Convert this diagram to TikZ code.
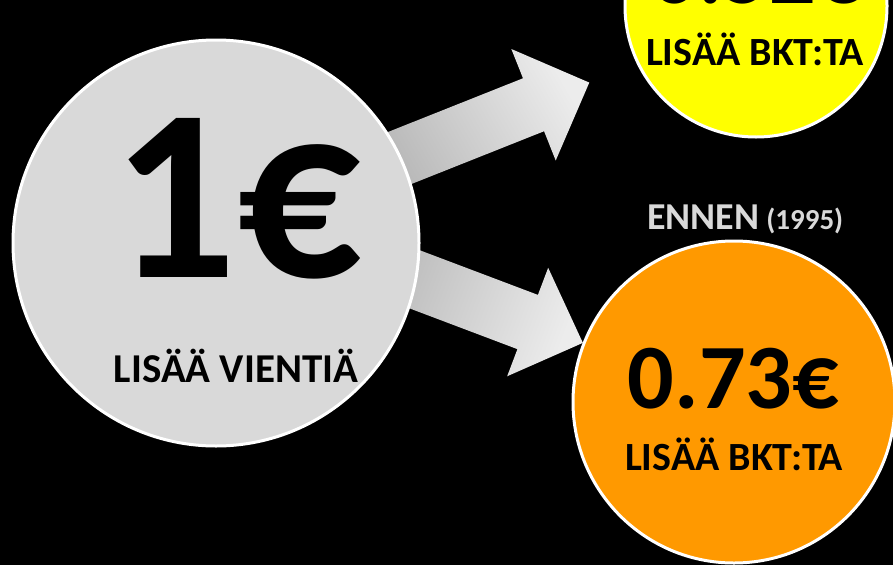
\documentclass[tikz,border=0pt]{standalone}
\usepackage{fontspec}
\setmainfont{Carlito}
\definecolor{greyfill}{HTML}{D9D9D9}
\definecolor{yellowfill}{HTML}{FFFF00}
\definecolor{orangefill}{HTML}{FF9900}
\definecolor{arrowdark}{HTML}{B2B2B2}
\definecolor{arrowlight}{HTML}{ECECEC}
\begin{document}
\begin{tikzpicture}[x=1pt,y=1pt,
  bubble/.style={circle, draw=white, line width=3pt, inner sep=0pt},
  bigtxt/.style={font=\bfseries\fontsize{#1}{#1}\selectfont, text=black, anchor=base, inner sep=0pt},
]
\fill[black] (0,0) rectangle (893,-565);
\useasboundingbox (0,0) rectangle (893,-565);

% arrows (behind circles)
\begin{scope}[shift={(357,-175)}, rotate=21.7]
  \shade[bottom color=arrowdark, top color=arrowlight, shading angle=-60]
    (0,28.5) -- (190,28.5) -- (190,60) -- (250,0) -- (190,-60) -- (190,-28.5) -- (0,-28.5) -- cycle;
\end{scope}
\begin{scope}[shift={(349,-254.5)}, rotate=-20.7]
  \shade[bottom color=arrowdark, top color=arrowlight, shading angle=-110.7]
    (0,29) -- (191,29) -- (191,58) -- (250,0) -- (191,-58) -- (191,-29) -- (0,-29) -- cycle;
\end{scope}

% circles
\node[bubble, fill=greyfill, minimum size=406pt] (src) at (216,-243) {};
\node[bubble, fill=yellowfill, minimum size=262pt] (now) at (756,-6) {};
\node[bubble, fill=orangefill, minimum size=322pt] (before) at (734,-402) {};

% texts
\node[bigtxt=245] (one) at (237,-277) {1€};
\node[bigtxt=41] (export) at (236,-382) {LISÄÄ VIENTIÄ};

\node[bigtxt=92] (nowval) at (757,-3) {0.52€};
\node[bigtxt=40] (nowgdp) at (755,-65) {LISÄÄ BKT:TA};

\node[font=\bfseries, text=greyfill, anchor=base west, inner sep=0pt] (ennen) at (647,-229)
  {\fontsize{38}{38}\selectfont ENNEN\hspace{7pt}\fontsize{29}{29}\selectfont (1995)};
\node[bigtxt=92] (beforeval) at (733.5,-408) {0.73€};
\node[bigtxt=40] (beforegdp) at (734,-470) {LISÄÄ BKT:TA};
\end{tikzpicture}
\end{document}
